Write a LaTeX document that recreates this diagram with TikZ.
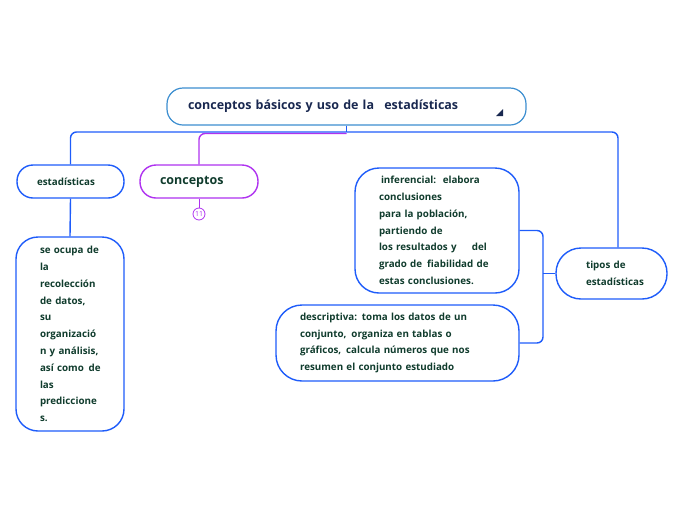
\documentclass[tikz,border=0pt]{standalone}
\usepackage{fontspec}
\setmainfont{Open Sans}
\usepackage{tikz}
\usetikzlibrary{calc}

\definecolor{lineblue}{RGB}{30,92,250}
\definecolor{rootblue}{RGB}{60,142,208}
\definecolor{lilac}{RGB}{175,50,240}
\definecolor{darkgreen}{RGB}{16,60,45}
\definecolor{navy}{RGB}{25,40,80}

\tikzset{
  topic/.style={draw=lineblue,line width=1.4pt,fill=white,inner sep=0pt,align=left,
    text=darkgreen,font=\fontsize{9.8}{16.8}\selectfont\bfseries},
  link/.style={lineblue,line width=1.4pt,rounded corners=6pt},
}

\begin{document}
\begin{tikzpicture}[x=1pt,y=-1pt]
\useasboundingbox (0,0) rectangle (696,520);

  \node (R) at (346.5,106.5) [draw=rootblue,line width=1.2pt,rounded corners=16pt,
    minimum width=359pt,minimum height=37pt,inner sep=0pt,text width=317pt,align=left,
    text=navy,font=\fontsize{12.5}{14}\selectfont\bfseries]
    {conceptos básicos y uso de la\hspace{6pt} estadísticas};
  \node (E) at (70.5,181.5) [topic,rounded corners=16pt,minimum width=107pt,minimum height=33pt,
    text width=67pt] {estadísticas};
  \node (C) at (199,181.5) [topic,draw=lilac,rounded corners=16pt,minimum width=118pt,minimum height=33pt,
    text width=78pt,font=\fontsize{12.5}{14}\selectfont\bfseries] {conceptos};
  \node (N) at (199,214) [draw=lilac,circle,line width=0.8pt,minimum size=12pt,inner sep=0pt,
    text=lilac,font=\fontsize{7}{8}\selectfont] {11};
  \node (O) at (70,334) [topic,rounded corners=22pt,minimum width=108pt,minimum height=194pt,
    text width=60pt]
    {\mbox{se ocupa de}\\la\\recolección\\\mbox{de datos,}\\su\\organizació\\\mbox{n y análisis,}\\\mbox{así como\, de}\\las\\prediccione\\s.};
  \node (I) at (437,230.5) [topic,rounded corners=24pt,minimum width=164pt,minimum height=125pt,
    text width=116pt]
    {\hspace{2pt}inferencial:\, elabora\\conclusiones\\para la población,\\partiendo de\\los resultados y\hspace{12pt} del\\grado de\, fiabilidad de\\estas conclusiones.};
  \node (D) at (397.5,343) [topic,rounded corners=26pt,minimum width=243pt,minimum height=76pt,
    text width=195pt]
    {descriptiva: toma los datos de un\\conjunto,\, organiza en tablas o\\gráficos,\, calcula números que nos\\resumen el conjunto estudiado};
  \node (T) at (611.5,273.5) [topic,rounded corners=25pt,minimum width=111pt,minimum height=51pt,
    text width=51pt]
    {tipos de\\estadísticas};

  \fill[navy] (503,109) -- (503,116) -- (496,116) -- cycle;

  \coordinate (hub) at (346.5,132);
  \coordinate (fork) at (543,273.5);

\draw[link] (R.south) -- (hub);
\draw[link] (hub) -| (E.north);
\draw[link] (hub) -| ([xshift=6.5pt]T.north);
\draw[link,lilac] ([yshift=-1.5pt]hub) -| (C.north);
\draw[link] (E.south) -- (O.north);
\draw[lilac,line width=1pt] (C.south) -- (N.north);

%%% branches of tipos %%%
\draw[link] (I.east) -| (fork) |- (D.east);
\draw[link] (fork) -- (T.west);
\end{tikzpicture}
\end{document}
